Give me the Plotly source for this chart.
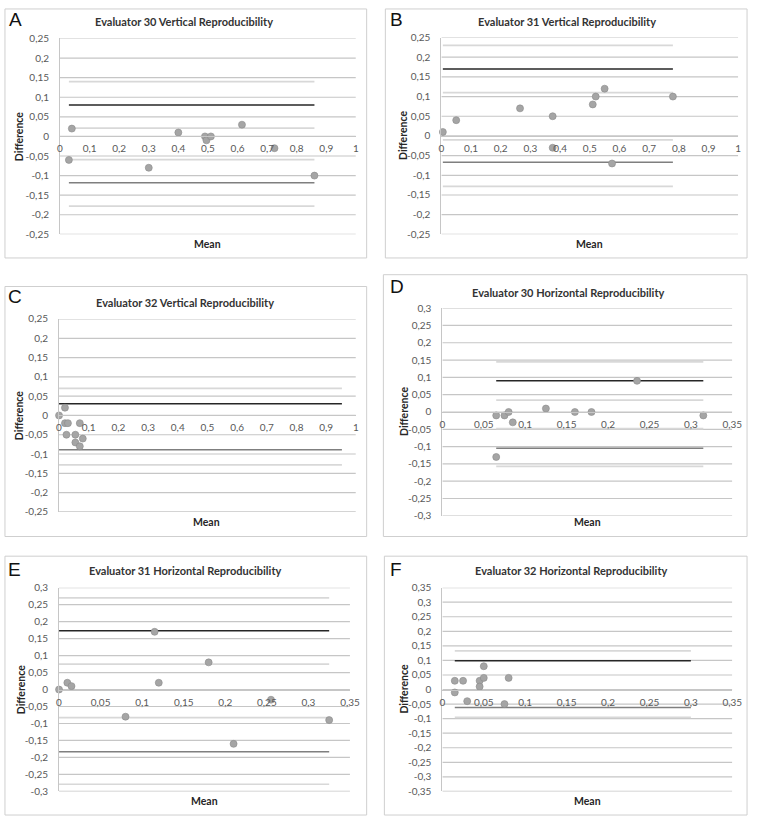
import plotly.graph_objects as go

# ---------------- DATA ----------------
# Panel A: Evaluator 30 Vertical Reproducibility
A_mean = [0.03, 0.04, 0.30, 0.40, 0.49, 0.495, 0.51, 0.615, 0.725, 0.86]
A_diff = [-0.06, 0.02, -0.08, 0.01, 0.00, -0.01, 0.00, 0.03, -0.03, -0.10]
A_limits = [0.08, -0.118]            # upper (black), lower (dark gray)
A_ci = [0.14, 0.021, -0.059, -0.178]  # light gray confidence lines
A_span = [0.03, 0.86]

# Panel B: Evaluator 31 Vertical Reproducibility
B_mean = [0.005, 0.05, 0.265, 0.375, 0.375, 0.51, 0.52, 0.55, 0.575, 0.78]
B_diff = [0.01, 0.04, 0.07, 0.05, -0.03, 0.08, 0.10, 0.12, -0.07, 0.10]
B_limits = [0.17, -0.067]
B_ci = [0.23, 0.11, -0.01, -0.128]
B_span = [0.005, 0.78]

# Panel C: Evaluator 32 Vertical Reproducibility
C_mean = [0.0, 0.02, 0.02, 0.03, 0.025, 0.055, 0.055, 0.07, 0.07, 0.08]
C_diff = [0.0, 0.02, -0.02, -0.02, -0.05, -0.05, -0.07, -0.02, -0.08, -0.06]
C_limits = [0.03, -0.089]
C_ci = [0.07, -0.128]
C_span = [0.0, 0.953]

# Panel D: Evaluator 30 Horizontal Reproducibility
D_mean = [0.065, 0.065, 0.075, 0.08, 0.085, 0.125, 0.16, 0.18, 0.235, 0.315]
D_diff = [-0.01, -0.13, -0.01, 0.0, -0.03, 0.01, 0.0, 0.0, 0.09, -0.01]
D_limits = [0.09, -0.105]
D_ci = [0.145, 0.034, -0.048, -0.157]
D_span = [0.065, 0.315]

# Panel E: Evaluator 31 Horizontal Reproducibility
E_mean = [0.0, 0.01, 0.015, 0.08, 0.115, 0.12, 0.18, 0.21, 0.255, 0.325]
E_diff = [0.0, 0.02, 0.01, -0.08, 0.17, 0.02, 0.08, -0.16, -0.03, -0.09]
E_limits = [0.173, -0.183]
E_ci = [0.27, 0.075, -0.083, -0.279]
E_span = [0.0, 0.325]

# Panel F: Evaluator 32 Horizontal Reproducibility
F_mean = [0.015, 0.015, 0.025, 0.03, 0.045, 0.045, 0.05, 0.05, 0.075, 0.08]
F_diff = [0.03, -0.01, 0.03, -0.04, 0.03, 0.01, 0.04, 0.08, -0.05, 0.04]
F_limits = [0.099, -0.062]
F_ci = [0.133, -0.096]
F_span = [0.015, 0.30]

# Tick values
X_TICKS_VERT = [0, 0.1, 0.2, 0.3, 0.4, 0.5, 0.6, 0.7, 0.8, 0.9, 1]
X_TICKS_HORIZ = [0, 0.05, 0.1, 0.15, 0.2, 0.25, 0.3, 0.35]
Y_TICKS_25 = [-0.25, -0.2, -0.15, -0.1, -0.05, 0, 0.05, 0.1, 0.15, 0.2, 0.25]
Y_TICKS_30 = [-0.3, -0.25, -0.2, -0.15, -0.1, -0.05, 0, 0.05, 0.1, 0.15, 0.2, 0.25, 0.3]
Y_TICKS_35 = [-0.35, -0.3, -0.25, -0.2, -0.15, -0.1, -0.05, 0, 0.05, 0.1, 0.15, 0.2, 0.25, 0.3, 0.35]

TITLES = ["Evaluator 30 Vertical Reproducibility",
          "Evaluator 31 Vertical Reproducibility",
          "Evaluator 32 Vertical Reproducibility",
          "Evaluator 30 Horizontal Reproducibility",
          "Evaluator 31 Horizontal Reproducibility",
          "Evaluator 32 Horizontal Reproducibility"]
LETTERS = ["A", "B", "C", "D", "E", "F"]


def fmt(v):
    return f"{v:g}".replace(".", ",")


# ---------------- LAYOUT GEOMETRY (pixels) ----------------
W, H = 760, 822


def fx(x):
    return x / W


def fy(y):
    return 1 - y / H


panels = [
    dict(mean=A_mean, diff=A_diff, lim=A_limits, ci=A_ci, span=A_span,
         xt=X_TICKS_VERT, yt=Y_TICKS_25,
         plot=(58, 359, 32, 231), frame=(2, 370, 2, 255),
         letter=(4, 13), title=(184, 15), ytitle=(17,), mean_t=(208, 241)),
    dict(mean=B_mean, diff=B_diff, lim=B_limits, ci=B_ci, span=B_span,
         xt=X_TICKS_VERT, yt=Y_TICKS_25,
         plot=(446, 748, 31, 231), frame=(389, 757, 2, 255),
         letter=(392, 13), title=(574, 15), ytitle=(407,), mean_t=(597, 241)),
    dict(mean=C_mean, diff=C_diff, lim=C_limits, ci=C_ci, span=C_span,
         xt=X_TICKS_VERT, yt=Y_TICKS_25,
         plot=(57, 359, 317, 513), frame=(2, 370, 284, 538),
         letter=(3, 294), title=(185, 300), ytitle=(17,), mean_t=(207, 523)),
    dict(mean=D_mean, diff=D_diff, lim=D_limits, ci=D_ci, span=D_span,
         xt=X_TICKS_HORIZ, yt=Y_TICKS_30,
         plot=(447, 742, 306, 517), frame=(387, 757, 272, 538),
         letter=(392, 284), title=(575, 290), ytitle=(408,), mean_t=(595, 523)),
    dict(mean=E_mean, diff=E_diff, lim=E_limits, ci=E_ci, span=E_span,
         xt=X_TICKS_HORIZ, yt=Y_TICKS_30,
         plot=(57, 353, 590, 797), frame=(2, 370, 558, 821),
         letter=(3, 572), title=(185, 573), ytitle=(18,), mean_t=(205, 807)),
    dict(mean=F_mean, diff=F_diff, lim=F_limits, ci=F_ci, span=F_span,
         xt=X_TICKS_HORIZ, yt=Y_TICKS_35,
         plot=(447, 742, 590, 797), frame=(388, 757, 558, 821),
         letter=(392, 572), title=(578, 573), ytitle=(408,), mean_t=(595, 807)),
]

FONT = "Lato, 'Open Sans', sans-serif"
GRID = "#c6c6c6"

fig = go.Figure()
layout = dict(
    autosize=True,
    margin=dict(l=0, r=0, t=0, b=0),
    paper_bgcolor="white", plot_bgcolor="white",
    showlegend=False,
    hovermode=False,
    font=dict(family=FONT, size=10, color="#595959"),
)
shapes = []
annotations = []

for i, p in enumerate(panels):
    n = i + 1
    m = n + 6
    xa = "x" if n == 1 else f"x{n}"
    ya = "y" if n == 1 else f"y{n}"
    xkey = "xaxis" if n == 1 else f"xaxis{n}"
    ykey = "yaxis" if n == 1 else f"yaxis{n}"
    l, r, t, b = p["plot"]
    ymax = max(p["yt"])
    xmax = max(p["xt"])

    # horizontal gridlines at every y tick
    for v in p["yt"]:
        fig.add_trace(go.Scatter(x=[0, xmax], y=[v, v], mode="lines",
                                 line=dict(color=GRID, width=1.2),
                                 cliponaxis=False,
                                 xaxis=xa, yaxis=ya, hoverinfo="skip"))

    # light gray CI lines
    for v in p["ci"]:
        fig.add_trace(go.Scatter(x=p["span"], y=[v, v], mode="lines",
                                 line=dict(color="#d8d8d8", width=1.7),
                                 xaxis=xa, yaxis=ya, hoverinfo="skip"))
    # lower limit (dark gray), upper limit (black)
    fig.add_trace(go.Scatter(x=p["span"], y=[p["lim"][1]] * 2, mode="lines",
                             line=dict(color="#7f7f7f", width=1.5),
                             xaxis=xa, yaxis=ya, hoverinfo="skip"))
    fig.add_trace(go.Scatter(x=p["span"], y=[p["lim"][0]] * 2, mode="lines",
                             line=dict(color="#262626", width=1.5),
                             xaxis=xa, yaxis=ya, hoverinfo="skip"))
    # points
    fig.add_trace(go.Scatter(x=p["mean"], y=p["diff"], mode="markers",
                             marker=dict(size=7, color="#a5a5a5",
                                         line=dict(color="#8a8a8a", width=0.6)),
                             cliponaxis=False, xaxis=xa, yaxis=ya))
    # invisible trace to attach the zero-crossing category axis
    fig.add_trace(go.Scatter(x=[0], y=[0], mode="markers", marker=dict(opacity=0),
                             xaxis=f"x{m}", yaxis=ya, hoverinfo="skip"))

    layout[xkey] = dict(
        domain=[fx(l), fx(r)], range=[0, xmax], anchor=ya,
        showticklabels=False, showgrid=False, zeroline=False, showline=False,
        ticks="", fixedrange=True,
    )
    layout[f"xaxis{m}"] = dict(
        overlaying=xa, range=[0, xmax], anchor="free",
        position=fy((t + b) / 2),
        tickvals=p["xt"], ticktext=[fmt(v) for v in p["xt"]],
        showgrid=False, zeroline=False, showline=True, linecolor=GRID, linewidth=1,
        ticks="", ticklabelstandoff=3, fixedrange=True,
        tickfont=dict(family=FONT, size=10, color="#595959"),
    )
    layout[ykey] = dict(
        domain=[fy(b), fy(t)], range=[-ymax, ymax], anchor=xa,
        tickvals=p["yt"], ticktext=[fmt(v) for v in p["yt"]],
        showgrid=False, zeroline=False,
        showline=True, linecolor=GRID, linewidth=1,
        ticks="", ticklabelstandoff=8, fixedrange=True,
        tickfont=dict(family=FONT, size=10, color="#595959"),
    )

    fl, fr, ft, fb = p["frame"]
    shapes.append(dict(type="rect", xref="paper", yref="paper",
                       x0=fx(fl), x1=fx(fr), y0=fy(fb), y1=fy(ft),
                       line=dict(color="#cfcfcf", width=1)))

    annotations.append(dict(text=LETTERS[i], xref="paper", yref="paper",
                            x=fx(p["letter"][0]), y=fy(p["letter"][1]),
                            xanchor="left", yanchor="middle", showarrow=False,
                            font=dict(family="Liberation Sans, Arial", size=19, color="#111111")))
    annotations.append(dict(text="<b>" + TITLES[i] + "</b>", xref="paper", yref="paper",
                            x=fx(p["title"][0]), y=fy(p["title"][1]),
                            xanchor="center", yanchor="middle", showarrow=False,
                            font=dict(family=FONT, size=11, color="#333333")))
    annotations.append(dict(text="<b>Difference</b>", xref="paper", yref="paper",
                            x=fx(p["ytitle"][0]), y=fy((t + b) / 2),
                            xanchor="center", yanchor="middle", textangle=-90,
                            showarrow=False,
                            font=dict(family=FONT, size=10.5, color="#262626")))
    annotations.append(dict(text="<b>Mean</b>", xref="paper", yref="paper",
                            x=fx(p["mean_t"][0]), y=fy(p["mean_t"][1]),
                            xanchor="center", yanchor="middle", showarrow=False,
                            font=dict(family=FONT, size=10.5, color="#262626")))

layout["shapes"] = shapes
layout["annotations"] = annotations
fig.update_layout(**layout)
fig.write_html(
    "out.html",
    default_width="100vw",
    default_height="100vh",
    config={"responsive": True, "displayModeBar": False, "staticPlot": True},
    post_script=("document.documentElement.style.margin='0';"
                 "document.body.style.margin='0';"
                 "document.body.style.overflow='hidden';"
                 "Plotly.Plots.resize(document.getElementById('{plot_id}'));"),
)
